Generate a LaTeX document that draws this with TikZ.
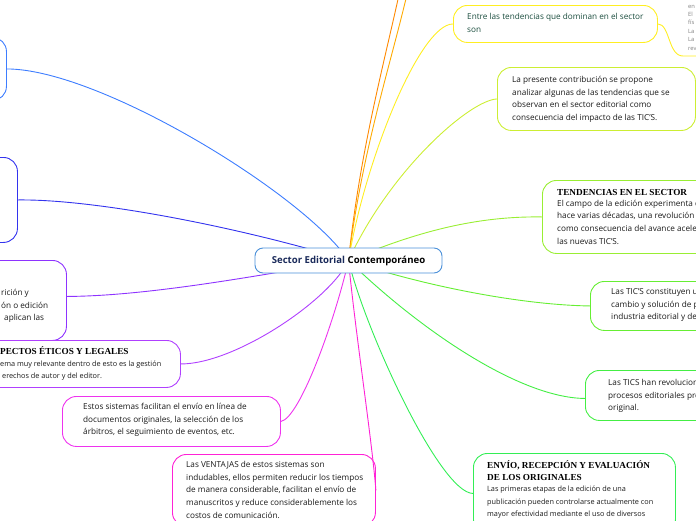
\documentclass[tikz,border=0pt]{standalone}
\usepackage{fontspec}
\setmainfont{Open Sans}
\newfontfamily\ttlfont{Liberation Serif}
\usetikzlibrary{calc}
\pgfdeclarelayer{bg}
\pgfsetlayers{bg,main}
\definecolor{cA}{HTML}{3D7DFF}
\definecolor{cB}{HTML}{3333EE}
\definecolor{cC}{HTML}{8E33FF}
\definecolor{cD}{HTML}{B040FF}
\definecolor{cE}{HTML}{EE33EE}
\definecolor{cF}{HTML}{FF22D6}
\definecolor{cG}{HTML}{FFEE22}
\definecolor{cH}{HTML}{CCEE33}
\definecolor{cI}{HTML}{99EE33}
\definecolor{cJ}{HTML}{66EE33}
\definecolor{cK}{HTML}{44EE44}
\definecolor{cL}{HTML}{33EE55}
\definecolor{cO}{HTML}{FF8800}
\definecolor{cP}{HTML}{FFAA00}
\definecolor{cCenter}{HTML}{4A90D9}
\definecolor{navy}{HTML}{1A2A5A}
\definecolor{dgreen}{HTML}{1B4D3E}
\newcommand\txtlines[1]{\vtop{\def\\{\egroup\hbox\bgroup}\hbox\bgroup#1\egroup}}
\tikzset{
  box/.style={draw, line width=0.9pt, rounded corners=14pt, inner sep=0pt, anchor=north west},
  txt/.style={anchor=base west, inner sep=0pt, font=\fontsize{8.2}{12.7}\selectfont, text=black!90},
  smalltxt/.style={anchor=base west, inner sep=0pt, font=\fontsize{7.3}{12.5}\selectfont, text=black!90},
  ttl/.style={anchor=base west, inner sep=0pt, font=\ttlfont\bfseries\fontsize{9.2}{12}\selectfont, text=black},
  link/.style={line width=0.9pt},
}
\begin{document}
\begin{tikzpicture}[x=1pt,y=-1pt]
\useasboundingbox (0,0) rectangle (696,520);
% central topic
\node[draw=cCenter, line width=0.9pt, fill=white, rounded corners=8pt, minimum width=187pt, minimum height=25pt, inner sep=0pt, font=\bfseries\fontsize{9.6}{11}\selectfont] (c) at (348.5,260.5) {\textcolor{navy}{Sector Editorial} Contemporáneo};
% boxes
\node[box, draw=cA, minimum width=156pt, minimum height=63pt] (A) at (-150,37) {};
\node[box, draw=cB, minimum width=167pt, minimum height=85pt] (B) at (-150,157) {};
\node[box, draw=cC, minimum width=216pt, minimum height=80pt] (C) at (-150,260) {};
\node[box, draw=cD, minimum width=330pt, minimum height=47pt] (D) at (-150,340) {};
\node[box, draw=cE, minimum width=218pt, minimum height=50pt] (E) at (62,396) {};
\node[box, draw=cF, minimum width=203pt, minimum height=72pt] (F) at (172,454) {};
\node[box, draw=cG, minimum width=204pt, minimum height=37pt] (G) at (453,5) {};
\node[box, draw=cH, minimum width=198pt, minimum height=63pt] (H) at (497,67) {};
\node[box, draw=cI, minimum width=240pt, minimum height=73pt] (I) at (542,180) {};
\node[box, draw=cJ, minimum width=220pt, minimum height=49pt] (J) at (590,281) {};
\node[box, draw=cK, minimum width=220pt, minimum height=50pt] (K) at (585,370) {};
\node[box, draw=cL, minimum width=202pt, minimum height=80pt] (L) at (473,453) {};
% texts
\node[txt] (Ct) at (1,295.5) {\txtlines{rición y\\ón o edición\\\hspace*{3pt}aplican las}};
\node[ttl] (Dh) at (0,354.5) {PECTOS ÉTICOS Y LEGALES};
\node[smalltxt] (Dt) at (0,366) {\txtlines{ema muy relevante dentro de esto es la gestión\\\hspace*{2pt}erechos de autor y del editor.}};
\node[txt] (Et) at (83,409.5) {\txtlines{Estos sistemas facilitan el envío en línea de\\documentos originales, la selección de los\\árbitros, el seguimiento de eventos, etc.}};
\node[txt] (Ft) at (186,467.5) {\txtlines{Las VENTAJAS de estos sistemas son\\indudables, ellos permiten reducir los tiempos\\de manera considerable, facilitan el envío de\\manuscritos y reduce considerablemente los\\costos de comunicación.}};
\node[txt, text=dgreen] (Gt) at (467,19.5) {\txtlines{Entre las tendencias que dominan en el sector\\son}};
\node[txt] (Ht) at (512,82.5) {\txtlines{La presente contribución se propone\\analizar algunas de las tendencias que se\\observan en el sector editorial como\\consecuencia del impacto de las TIC'S.}};
\node[ttl] (Ih) at (557,195) {TENDENCIAS EN EL SECTOR};
\node[txt] (It) at (557,206) {\txtlines{El campo de la edición experimenta d\\hace varias décadas, una revolución c\\como consecuencia del avance acelera\\las nuevas TIC'S.}};
\node[txt] (Jt) at (611,294.5) {\txtlines{Las TIC'S constituyen u\\cambio y solución de p\\industria editorial y de}};
\node[txt] (Kt) at (608,385.5) {\txtlines{Las TICS han revoluciona\\procesos editoriales pre\\original.}};
\node[ttl] (Lh) at (487,468) {\txtlines{ENVÍO, RECEPCIÓN Y EVALUACIÓN\\DE LOS ORIGINALES}};
\node[smalltxt] (Lt) at (487,491.5) {\txtlines{Las primeras etapas de la edición de una\\publicación pueden controlarse actualmente con\\mayor efectividad mediante el uso de diversos}};
\node[anchor=base west, inner sep=0pt, font=\fontsize{5.8}{8.4}\selectfont, text=black!50] (tr) at (688,8) {\txtlines{en\\El\\fís\\La\\La\\rev}};
\coordinate (tru) at (683,56);
\coordinate (tre) at (700,56);
\coordinate (o1) at (400,-10);
\coordinate (o2) at (408,-10);
% connectors
\begin{pgfonlayer}{bg}
\draw[link, cA] (A.east) .. controls (100,69) and (305,195) .. (c.center);
\draw[link, cB] (B.east) .. controls (100,199) and (250,230) .. (c.center);
\draw[link, cC] ([yshift=4pt]C.east) .. controls (150,296) and (260,275) .. (c.center);
\draw[link, cD] (D.east) .. controls (235,364) and (330,300) .. (c.center);
\draw[link, cE] (E.east) .. controls (300,418) and (335,320) .. (c.center);
\draw[link, cF] (F.east) .. controls (372,440) and (355,330) .. (c.center);
\draw[link, cO] (c.center) .. controls (360,150) and (385,60) .. (o1);
\draw[link, cP] (c.center) .. controls (362,150) and (392,60) .. (o2);
\draw[link, cG] (c.center) .. controls (365,160) and (420,24) .. (G.west);
\draw[link, cG] (G.east) .. controls (670,24) and (668,56) .. (tru) -- (tre);
\draw[link, cH] (c.center) .. controls (390,170) and (470,100) .. (H.west);
\draw[link, cI] (c.center) .. controls (420,230) and (480,216) .. (I.west);
\draw[link, cJ] (c.center) .. controls (420,285) and (520,305) .. (J.west);
\draw[link, cK] (c.center) .. controls (420,330) and (520,398) .. ([yshift=-3pt]K.west);
\draw[link, cL] (c.center) .. controls (365,330) and (440,493) .. (L.west);
\end{pgfonlayer}
\end{tikzpicture}
\end{document}
